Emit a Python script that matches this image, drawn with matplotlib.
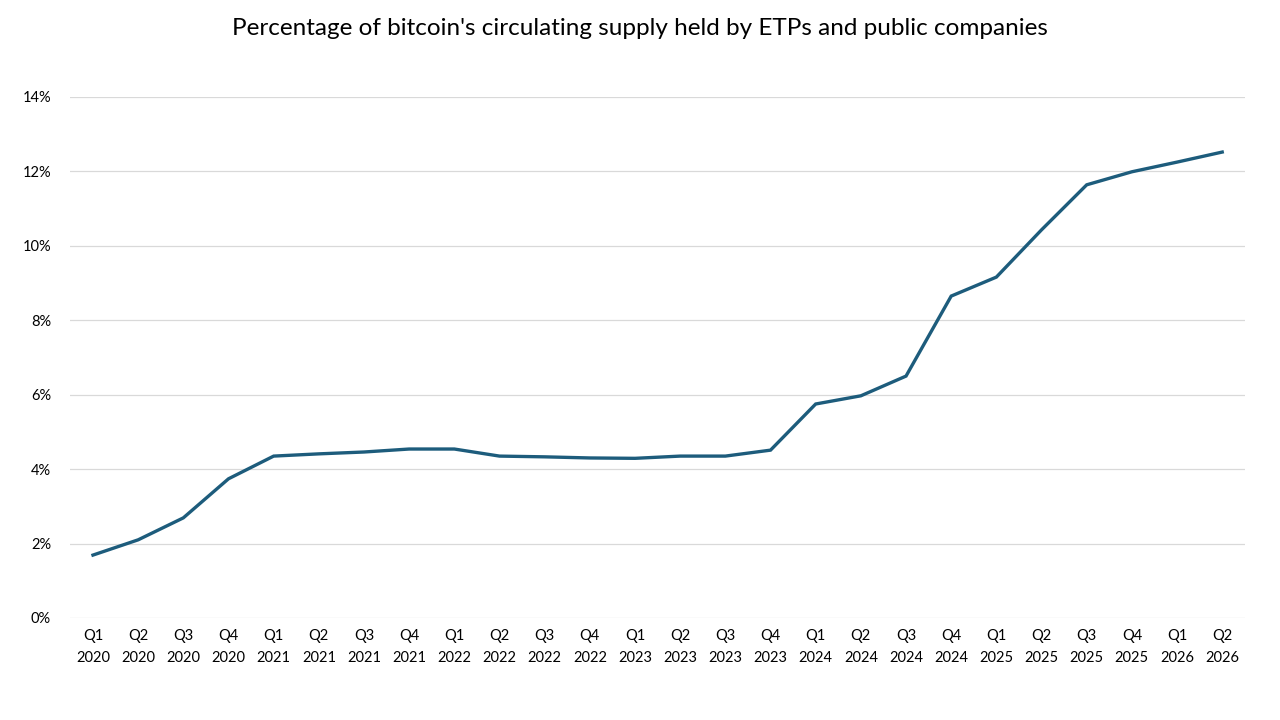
import numpy as np
import matplotlib.pyplot as plt

plt.rcParams['font.family'] = ['Lato', 'DejaVu Sans']

quarters = ['Q1', 'Q2', 'Q3', 'Q4'] * 7
years = [y for y in range(2020, 2027) for _ in range(4)]
labels = [q + '\n' + str(y) for q, y in zip(quarters, years)][:26]

# percent of circulating supply
pct = [1.69, 2.10, 2.69, 3.74, 4.35, 4.41, 4.46, 4.54, 4.54, 4.35, 4.33, 4.30, 4.29,
       4.35, 4.35, 4.51, 5.75, 5.97, 6.50, 8.65, 9.16, 10.43, 11.64, 11.99, 12.25, 12.52]

yticks = [0, 2, 4, 6, 8, 10, 12, 14]

fig = plt.figure(figsize=(12.8, 7.2), dpi=100)
ax = fig.add_axes([0.055, 0.1417, 0.9175, 0.7236])

x = np.arange(len(pct))
ax.plot(x, pct, color='#1D5C7C', linewidth=2.4, solid_joinstyle='miter')

ax.set_xlim(-0.5, len(pct) - 0.5)
ax.set_ylim(0, 14)
ax.set_yticks(yticks)
ax.set_yticklabels([str(v) + '%' for v in yticks], fontsize=10.5)
ax.set_xticks(x)
ax.set_xticklabels(labels, fontsize=10.5, linespacing=1.7)
ax.tick_params(length=0, pad=8)
ax.tick_params(axis='y', pad=14)
ax.grid(axis='y', color='#d9d9d9', linewidth=0.9)
ax.set_axisbelow(True)
for s in ax.spines.values():
    s.set_visible(False)

fig.suptitle("Percentage of bitcoin's circulating supply held by ETPs and public companies",
             fontsize=17.5, y=0.975)

fig.savefig('out.png', dpi=100)
